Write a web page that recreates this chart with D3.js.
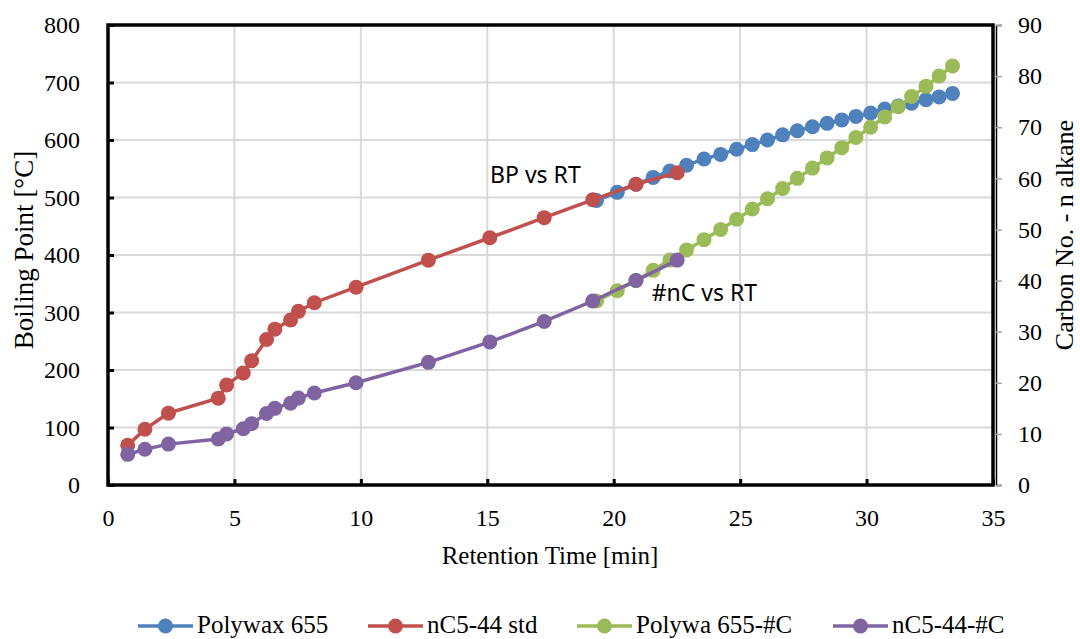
<!DOCTYPE html>
<html>
<head>
<meta charset="utf-8">
<script src="https://cdn.jsdelivr.net/npm/d3@7"></script>
<style>
body { margin: 0; background: #fff; }
</style>
</head>
<body>
<div id="chart-wrapper"></div>
<script>
let width = 1080
let height = 639
let serif = "'Liberation Serif', 'Times New Roman', serif"
let sans = "'Noto Sans', 'Open Sans', sans-serif"

// n-alkane standard (nC5-44 std), retention time [min]
let rtStd = [0.78, 1.46, 2.39, 4.36, 4.69, 5.35, 5.68, 6.27, 6.6, 7.22, 7.53, 8.16, 9.81, 12.67, 15.1, 17.25, 19.17, 20.88, 22.51]
let bpStd = [69, 97, 125, 151, 174, 195, 216, 253, 271, 287, 302, 317, 344, 391, 430, 465, 496, 523, 543]
let cnStd = [6, 7, 8, 9, 10, 11, 12, 14, 15, 16, 17, 18, 20, 24, 28, 32, 36, 40, 44]

// Polywax 655
let rtPoly = [19.32, 20.14, 20.88, 21.56, 22.22, 22.88, 23.57, 24.23, 24.86, 25.48, 26.08, 26.68, 27.26, 27.86, 28.44, 29.02, 29.58, 30.16, 30.72, 31.25, 31.78, 32.35, 32.87, 33.40]
let bpPoly = [495, 509, 523, 535, 546, 556, 567, 575, 584, 592, 600, 609, 616, 623, 629, 635, 641, 647, 654, 659, 664, 670, 675, 681]
let cnPoly = [36, 38, 40, 42, 44, 46, 48, 50, 52, 54, 56, 58, 60, 62, 64, 66, 68, 70, 72, 74, 76, 78, 80, 82]

let xTicks = [0, 5, 10, 15, 20, 25, 30, 35]
let yTicks = [0, 100, 200, 300, 400, 500, 600, 700, 800]
let y2Ticks = [0, 10, 20, 30, 40, 50, 60, 70, 80, 90]

let seriesNames = ["Polywax 655", "nC5-44 std", "Polywa 655-#C", "nC5-44-#C"]
let color = ["#4f81bd", "#c0504d", "#9bbb59", "#8064a2"]

let margin = {top: 25, right: 87, bottom: 154, left: 108}
let graphWidth = width - margin.left - margin.right
let graphHeight = height - margin.top - margin.bottom

let svg = d3.select("#chart-wrapper")
  .append("svg")
  .attr("width", width)
  .attr("height", height)

let graph = svg.append("g")
  .attr("transform", `translate(${margin.left},${margin.top})`)

let x = d3.scaleLinear().domain([0, 35]).range([0, graphWidth])
let y = d3.scaleLinear().domain([0, 800]).range([graphHeight, 0])
let y2 = d3.scaleLinear().domain([0, 90]).range([graphHeight, 0])

// grid
graph.append("g").selectAll("line")
  .data(yTicks.slice(1, -1))
  .enter().append("line")
  .attr("x1", 0).attr("x2", graphWidth)
  .attr("y1", d => y(d)).attr("y2", d => y(d))
  .attr("stroke", "#d9d9d9").attr("stroke-width", 2)
graph.append("g").selectAll("line")
  .data(xTicks.slice(1, -1))
  .enter().append("line")
  .attr("y1", 0).attr("y2", graphHeight)
  .attr("x1", d => x(d)).attr("x2", d => x(d))
  .attr("stroke", "#d9d9d9").attr("stroke-width", 2)

// series: blue, red, green, purple (later ones on top)
let series = [
  {x: rtPoly, y: bpPoly, s: y},
  {x: rtStd, y: bpStd, s: y},
  {x: rtPoly, y: cnPoly, s: y2},
  {x: rtStd, y: cnStd, s: y2}
]
series.forEach((ser, k) => {
  let pts = ser.x.map((v, i) => [x(v), ser.s(ser.y[i])])
  graph.append("path")
    .attr("d", d3.line()(pts))
    .attr("fill", "none")
    .attr("stroke", color[k])
    .attr("stroke-width", 3.5)
  graph.append("g").selectAll("circle")
    .data(pts)
    .enter().append("circle")
    .attr("cx", d => d[0]).attr("cy", d => d[1])
    .attr("r", 7.5)
    .attr("fill", color[k])
})

// frame
graph.append("rect")
  .attr("width", graphWidth).attr("height", graphHeight)
  .attr("fill", "none").attr("stroke", "#000").attr("stroke-width", 3.5)

// Axes
graph.append("g")
  .attr("class", "xAxis")
  .attr("transform", `translate(0,${graphHeight})`)
  .call(d3.axisBottom(x).tickValues(xTicks).tickSize(-6).tickPadding(24))
graph.append("g")
  .attr("class", "yAxis")
  .call(d3.axisLeft(y).tickValues(yTicks).tickSize(-6).tickPadding(28))
graph.append("g")
  .attr("class", "y2Axis")
  .attr("transform", `translate(${graphWidth + 3},0)`)
  .call(d3.axisRight(y2).tickValues(y2Ticks).tickSize(6).tickPadding(16))

d3.selectAll(".xAxis, .yAxis, .y2Axis").attr("font-family", serif).attr("font-size", 24)
d3.selectAll(".xAxis path, .yAxis path").remove()
d3.selectAll(".xAxis line, .yAxis line").attr("stroke", "#000").attr("stroke-width", 3)
d3.selectAll(".y2Axis path").attr("stroke", "#000").attr("stroke-width", 1.5)
d3.selectAll(".y2Axis line").attr("stroke", "#a6a6a6").attr("stroke-width", 1.5)
d3.selectAll(".xAxis text, .yAxis text, .y2Axis text")
  .style("font-family", serif).style("font-size", "24px").attr("fill", "#000")

// titles
svg.append("text")
  .attr("transform", `translate(33,250) rotate(-90)`)
  .attr("text-anchor", "middle")
  .style("font-family", serif).style("font-size", "27px")
  .text("Boiling Point [°C]")
svg.append("text")
  .attr("transform", `translate(1073,235) rotate(-90)`)
  .attr("text-anchor", "middle")
  .style("font-family", serif).style("font-size", "26px")
  .text("Carbon No. - n alkane")
svg.append("text")
  .attr("x", 550).attr("y", 564)
  .attr("text-anchor", "middle")
  .style("font-family", serif).style("font-size", "25px")
  .text("Retention Time [min]")

// annotations
graph.append("text")
  .attr("x", x(15.11)).attr("y", y(526))
  .style("font-family", sans).style("font-size", "23px")
  .text("BP vs RT")
graph.append("text")
  .attr("x", x(21.5)).attr("y", y2(36.0))
  .style("font-family", sans).style("font-size", "23px")
  .text("#nC vs RT")

// legend
let legendX = [138, 368, 577, 833]
let legend = svg.append("g").attr("transform", "translate(0,626)")
seriesNames.forEach((name, k) => {
  let g = legend.append("g").attr("transform", `translate(${legendX[k]},0)`)
  g.append("line").attr("x1", 0).attr("x2", 55).attr("stroke", color[k]).attr("stroke-width", 3.5)
  g.append("circle").attr("cx", 27.5).attr("r", 7.5).attr("fill", color[k])
  g.append("text").attr("x", 59).attr("y", 7)
    .style("font-family", serif).style("font-size", "25px")
    .text(name)
})
</script>
</body>
</html>
